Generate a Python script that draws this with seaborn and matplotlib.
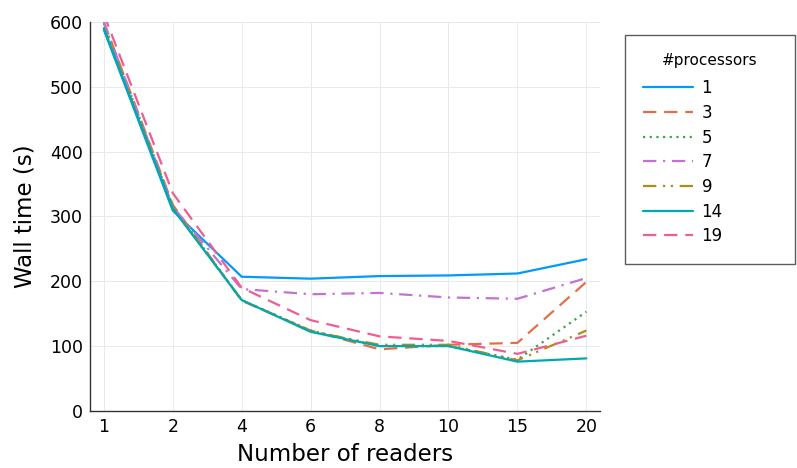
import pandas as pd
import matplotlib
matplotlib.use("Agg")
import matplotlib.pyplot as plt
import seaborn as sns

readers = [1, 2, 4, 6, 8, 10, 15, 20]
processors = ["1", "3", "5", "7", "9", "14", "19"]

p1 = [588, 309, 207, 204, 208, 209, 212, 234]
p3 = [600, 318, 170, 124, 95, 102, 105, 199]
p5 = [598, 316, 171, 124, 100, 100, 79, 153]
p7 = [600, 315, 188, 180, 182, 175, 173, 205]
p9 = [592, 313, 171, 123, 102, 102, 78, 124]
p14 = [590, 312, 171, 122, 100, 100, 76, 81]
p19 = [612, 336, 190, 140, 115, 108, 88, 116]

series = [p1, p3, p5, p7, p9, p14, p19]
rows = []
for name, vals in zip(processors, series):
    for i, v in enumerate(vals):
        rows.append({"pos": i, "time": v, "#processors": name})
df = pd.DataFrame(rows)

colors = ["#009AFA", "#E36F47", "#3EA44E", "#C371D2", "#AC8E18", "#00A9AD", "#ED5E93"]
dashes = ["", (6, 3.5), (1, 2), (6, 3, 1, 3), (6, 3, 1, 2.5, 1, 3), "", (6, 3.5)]

sns.set_style("white")
plt.rcParams['font.family'] = ['DejaVu Sans']
plt.rcParams['text.color'] = 'black'
plt.rcParams['axes.labelcolor'] = 'black'

fig = plt.figure(figsize=(7.97, 4.68), dpi=100)
ax = fig.add_axes([0.113, 0.122, 0.640, 0.831])

sns.lineplot(data=df, x="pos", y="time", hue="#processors", style="#processors",
             hue_order=processors, style_order=processors,
             palette=colors, dashes=dashes, linewidth=1.6, ax=ax)

ax.set_xlim(-0.2, 7.2)
ax.set_ylim(0, 600)
ax.set_xticks(range(len(readers)))
ax.set_xticklabels([str(r) for r in readers])
ax.set_yticks(range(0, 601, 100))
ax.grid(True, color="#e6e6e6", linewidth=0.6)
ax.set_axisbelow(True)
for s in ["top", "right"]:
    ax.spines[s].set_visible(False)
for s in ["left", "bottom"]:
    ax.spines[s].set_color("#333333")
    ax.spines[s].set_linewidth(1.0)
ax.tick_params(direction="in", length=4, labelsize=12.5, color="#333333",
               labelcolor="black", pad=5)
ax.set_xlabel("Number of readers", fontsize=16.5, labelpad=5)
ax.set_ylabel("Wall time (s)", fontsize=16.5, labelpad=10)

handles, labels = ax.get_legend_handles_labels()
ax.legend_.remove()
leg = fig.legend(handles, labels, title="#processors", loc="upper left",
                 bbox_to_anchor=(0.784, 0.45, 0.213, 0.475), mode="expand",
                 fontsize=12, title_fontsize=11,
                 handlelength=3.0, handletextpad=0.5, labelspacing=0.4,
                 borderpad=1.1, borderaxespad=0.0,
                 fancybox=False, frameon=True, edgecolor="#333333")
leg.get_frame().set_linewidth(1.0)
# a little more room under the title
leg._legend_box.sep += 3

fig.savefig("out.png", dpi=100)
